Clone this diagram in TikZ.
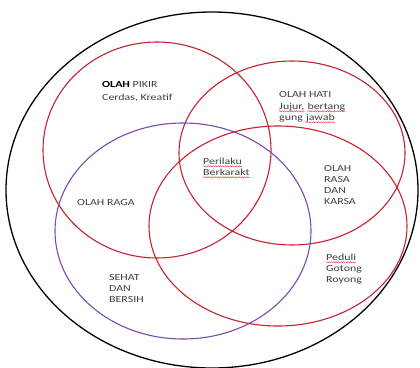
\documentclass[tikz,border=0pt]{standalone}
\usepackage{fontspec}
\setmainfont{Carlito}[FakeStretch=1.28]
\usetikzlibrary{positioning}
\usetikzlibrary{decorations.pathmorphing}
\definecolor{VennRed}{RGB}{196,34,46}
\definecolor{VennPurple}{RGB}{120,76,168}
\definecolor{VennText}{RGB}{62,62,62}
\definecolor{SpellRed}{RGB}{232,70,70}

\begin{document}
\begin{tikzpicture}[x=1pt,y=-1pt,
		ring/.style={line width=1.1pt},
		vtext/.style={inner sep=0pt,anchor=base west,align=left,text=VennText,font=\fontsize{9.3}{11}\selectfont},
		spell/.style={SpellRed,line width=0.45pt,decorate,decoration={snake,amplitude=0.6pt,segment length=2.4pt}}]
			\useasboundingbox (0,0) rectangle (420,367);
			\begin{scope}
				% outer frame and the four circles
				\draw[black,line width=1.3pt] (212,190) ellipse [x radius=206,y radius=178];
				\draw[ring,VennRed] (157,150) ellipse [x radius=114,y radius=108];
				\draw[ring,VennRed] (292,153) ellipse [x radius=113,y radius=92];
				\draw[ring,VennPurple] (183,231) ellipse [x radius=128,y radius=108];
				\draw[ring,VennRed] (278,226) ellipse [x radius=129,y radius=100];
			\end{scope}
			% base = baseline of the last line
			\node[vtext] (pikir) at (102,100) {\textcolor{black}{\textbf{OLAH}} PIKIR\\[1.5pt]Cerdas, Kreatif};
			\node[vtext] (hati) at (279,97) {OLAH HATI};
			\node[vtext] (jujur) at (279,109) {Jujur,};
			\node[vtext,base right=2.7pt of jujur] (bertang) {bertang};
			\node[vtext] (gung) at (279,120) {gung};
			\node[vtext,base right=2.7pt of gung] (jawab) {jawab};
			\node[vtext] (perilaku) at (203,164) {Perilaku};
			\node[vtext] (berkarakt) at (203,175) {Berkarakt};
			\node[vtext] (raga) at (77,205) {OLAH RAGA};
			\node[vtext] (rasa) at (324,204) {OLAH\\RASA\\DAN\\KARSA};
			\node[vtext] (peduli) at (326,260) {Peduli};
			\node[vtext] (gotong) at (326,282) {Gotong\\Royong};
			\node[vtext] (sehat) at (109,302) {SEHAT\\DAN\\BERSIH};
			% red squiggles under the words
			\foreach \w in {jujur,bertang,jawab,perilaku,berkarakt,peduli}
				\draw[spell] ([yshift=-2.3pt]\w.base west) -- ([yshift=-2.3pt]\w.base east);
		\end{tikzpicture}
\end{document}
